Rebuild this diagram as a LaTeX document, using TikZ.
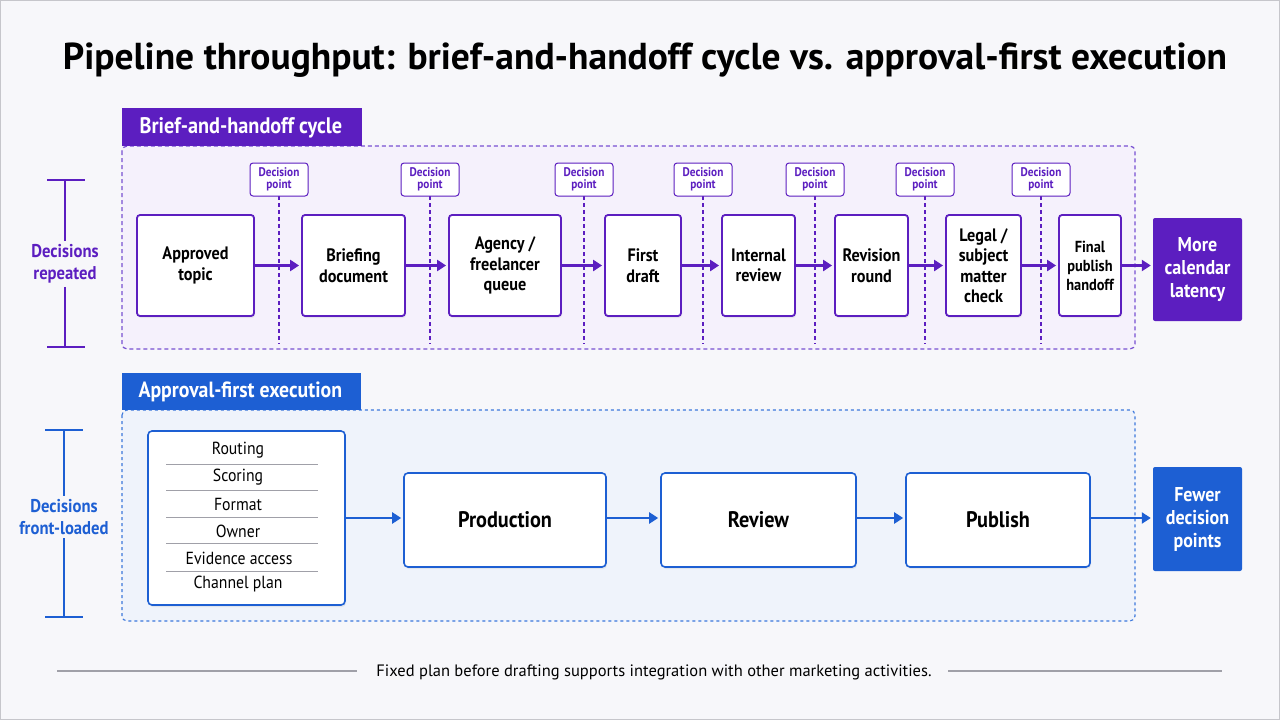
\documentclass[tikz,border=0pt]{standalone}
\usepackage{fontspec}
\setmainfont{PT Sans}[FakeStretch=0.9]
\newfontfamily\widefont{PT Sans}
\usetikzlibrary{arrows.meta,shadows}
\definecolor{purp}{RGB}{92,30,192}
\definecolor{purpl}{RGB}{120,80,210}
\definecolor{purpfill}{RGB}{245,241,252}
\definecolor{blu}{RGB}{29,95,211}
\definecolor{blul}{RGB}{60,120,220}
\definecolor{blufill}{RGB}{239,243,251}
\definecolor{bg}{RGB}{247,247,250}
\definecolor{sep}{RGB}{160,160,168}
\tikzset{
  pbox/.style={draw=purp, line width=1.8pt, fill=white, rounded corners=3pt, align=center,
    font=\bfseries\fontsize{18}{20.5}\selectfont, inner sep=1pt, minimum height=101pt,
    drop shadow={opacity=0.12, shadow xshift=1pt, shadow yshift=-2pt}},
  bbox/.style={draw=blu, line width=1.6pt, fill=white, rounded corners=4pt, align=center,
    font=\bfseries\fontsize{22.5}{25}\selectfont, minimum height=94pt,
    drop shadow={opacity=0.12, shadow xshift=1pt, shadow yshift=-2pt}},
  dpbox/.style={draw=purp, line width=1pt, fill=white, rounded corners=3pt, align=center,
    font=\bfseries\fontsize{12.5}{12.5}\selectfont\color{purp}, minimum width=58pt, minimum height=33pt, inner sep=0pt},
  endbox/.style={rounded corners=2pt, align=center, text=white,
    font=\bfseries\fontsize{20}{23}\selectfont, minimum width=89pt, inner sep=0pt},
  parr/.style={draw=purp, line width=2.6pt, -{Triangle[length=9pt,width=11pt]}, shorten >=2pt},
  barr/.style={draw=blu, line width=2.8pt, -{Triangle[length=9pt,width=11pt]}, shorten >=2pt},
  dpline/.style={draw=purp, line width=1.1pt, dash pattern=on 4pt off 3pt},
  item/.style={font=\fontsize{17.5}{19}\selectfont, inner sep=0pt},
  side/.style={font=\bfseries\fontsize{18.5}{22}\selectfont, align=center},
}
\begin{document}
\begin{tikzpicture}[x=1pt,y=-1pt]
\useasboundingbox (0,0) rectangle (1280,720);
\fill[bg] (0,0) rectangle (1280,720);
\draw[sep!60, line width=1pt] (0.5,0.5) rectangle (1279.5,719.5);

\node[font=\widefont\bfseries\fontsize{37.5}{42}\selectfont] (title) at (645,60) {Pipeline throughput: brief-and-handoff cycle vs. approval-first execution};

% ---------- top section ----------
\draw[purpl, line width=1.2pt, dash pattern=on 4pt off 3pt, fill=purpfill, rounded corners=5pt] (122,146) rectangle (1135,349);
\fill[purp] (122,108) rectangle (362,146);
\node[anchor=west, text=white, font=\bfseries\fontsize{22.5}{26}\selectfont] (tabA) at (136,128) {Brief-and-handoff cycle};

% side bar
\node[side, text=purp] (sideA) at (65,264) {Decisions\\repeated};
\coordinate (sAt) at (65,180); \coordinate (sAb) at (65,347);
\draw[purp, line width=2.4pt] (sAt) -- (sideA.north);
\draw[purp, line width=2.4pt] (sideA.south) -- (sAb);
\draw[purp, line width=2.4pt] (47,180) -- (85,180) (47,347) -- (85,347);

% decision points
\foreach \n/\x in {1/279,2/430,3/584,4/703,5/815,6/925,7/1041}{
  \coordinate (dpe\n) at (\x,344);
  \draw[dpline] (\x,196) -- (dpe\n);
  \node[dpbox] (dp\n) at (\x,179.5) {Decision\\point};
}

% boxes
\node[pbox, minimum width=117pt] (a1) at (195.5,265.5) {Approved\\topic};
\node[pbox, minimum width=103pt] (a2) at (353.5,265.5) {Briefing\\document};
\node[pbox, minimum width=112pt] (a3) at (505,265.5) {Agency /\\freelancer\\queue};
\node[pbox, minimum width=76pt] (a4) at (643,265.5) {First\\draft};
\node[pbox, minimum width=73pt] (a5) at (758.5,265.5) {Internal\\review};
\node[pbox, minimum width=73pt] (a6) at (871.5,265.5) {Revision\\round};
\node[pbox, minimum width=75pt] (a7) at (983.5,265.5) {Legal /\\subject\\matter\\check};
\node[pbox, minimum width=62pt, font=\bfseries\fontsize{16}{19}\selectfont] (a8) at (1090,265.5) {Final\\publish\\handoff};
\node[endbox, fill=purp, minimum height=103pt] (a9) at (1197.5,269.5) {More\\calendar\\latency};

\foreach \i/\j in {a1/a2,a2/a3,a3/a4,a4/a5,a5/a6,a6/a7,a7/a8}{
  \draw[parr] (\i.east) -- (\j.west);
}
\draw[parr] (a8.east) -- (a8.east -| a9.west);

% ---------- bottom section ----------
\draw[blul, line width=1.1pt, dash pattern=on 3pt off 3pt, fill=blufill, rounded corners=5pt] (122,410) rectangle (1135,621);
\fill[blu] (122,373) rectangle (361,410);
\node[anchor=west, text=white, font=\bfseries\fontsize{22}{26}\selectfont] (tabB) at (135,392) {Approval-first execution};

\node[side, text=blu] (sideB) at (64,517) {Decisions\\front-loaded};
\coordinate (sBt) at (64,430); \coordinate (sBb) at (64,617);
\draw[blu, line width=2.4pt] (sBt) -- (sideB.north);
\draw[blu, line width=2.4pt] (sideB.south) -- (sBb);
\draw[blu, line width=2.4pt] (45,430) -- (83,430) (45,617) -- (83,617);

\node[draw=blu, line width=1.6pt, fill=white, rounded corners=4pt, minimum width=197pt, minimum height=174pt,
  drop shadow={opacity=0.12, shadow xshift=1pt, shadow yshift=-2pt}] (list) at (246.5,518) {};
\node[item] (i1) at (238,450) {Routing};
\node[item] (i2) at (238,477) {Scoring};
\node[item] (i3) at (238,504) {Format};
\node[item] (i4) at (238,531) {Owner};
\node[item] (i5) at (239,558) {Evidence access};
\node[item] (i6) at (238,584) {Channel plan};
\foreach \y in {464,490,517,543,571}{
  \draw[sep, line width=0.9pt] (166,\y) -- (318,\y);
}

\node[bbox, minimum width=202pt] (b1) at (505,520) {Production};
\node[bbox, minimum width=195pt] (b2) at (758.5,520) {Review};
\node[bbox, minimum width=184pt] (b3) at (998,520) {Publish};
\node[endbox, fill=blu, minimum height=104pt] (b4) at (1197.5,519) {Fewer\\decision\\points};

\draw[barr] (list.east |- 0,518) -- (b1.west |- 0,518);
\draw[barr] (b1.east |- 0,518) -- (b2.west |- 0,518);
\draw[barr] (b2.east |- 0,518) -- (b3.west |- 0,518);
\draw[barr] (b3.east |- 0,518) -- (b4.west |- 0,518);

% ---------- footer ----------
\node[font=\widefont\fontsize{16.5}{19}\selectfont] (foot) at (654,672) {Fixed plan before drafting supports integration with other marketing activities.};
\coordinate (fl) at (57,671); \coordinate (fr) at (1222,671);
\draw[sep, line width=1.2pt] (fl) -- (357,671);
\draw[sep, line width=1.2pt] (948,671) -- (fr);
\end{tikzpicture}
\end{document}
